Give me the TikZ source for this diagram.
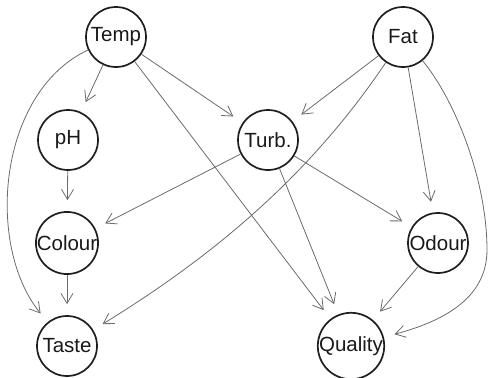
\documentclass[tikz,border=0pt]{standalone}
\usepackage{fontspec}
\setmainfont{Liberation Sans}
\usetikzlibrary{arrows.meta}
\begin{document}
\begin{tikzpicture}[x=1pt,y=-1pt,
  var/.style={circle,draw=black!88,line width=1.7pt,minimum size=60pt,inner sep=0pt,
    font=\fontsize{20.5}{21}\selectfont,text=black!90},
  edge/.style={draw=black!58,line width=0.8pt,
    -{Straight Barb[length=10pt,width=12pt,line width=0.8pt]},shorten >=11pt}]
\useasboundingbox (0,0) rectangle (488,378);
\node[var] (temp) at (116,37) {Temp};
\node[var] (fat) at (403,37) {Fat};
\node[var] (ph) at (68,140) {pH};
\node[var] (turb) at (268,140) {Turb.};
\node[var] (colour) at (67,243) {Colour};
\node[var] (odour) at (438,243) {Odour};
\node[var] (taste) at (67,346) {Taste};
\node[var] (quality) at (351,346) {Quality};
\coordinate (fq) at (487,250);
\draw[edge] (temp) -- (ph);
\draw[edge] (temp) -- (turb);
\draw[edge] (temp) -- (quality);
\draw[edge] (temp) .. controls (-2,92) and (-15,245) .. (taste);
\draw[edge] (ph) -- (colour);
\draw[edge] (colour) -- (taste);
\draw[edge] (turb) -- (colour);
\draw[edge] (turb) -- (odour);
\draw[edge] (turb) -- (quality);
\draw[edge] (fat) -- (turb);
\draw[edge] (fat) .. controls (310,175) and (215,255) .. (taste);
\draw[edge] (fat) -- (odour);
\draw[edge] (fat) .. controls (455,100) and (487,180) .. (fq) .. controls (487,300) and (440,322) .. (quality);
\draw[edge] (odour) -- (quality);
\end{tikzpicture}
\end{document}
